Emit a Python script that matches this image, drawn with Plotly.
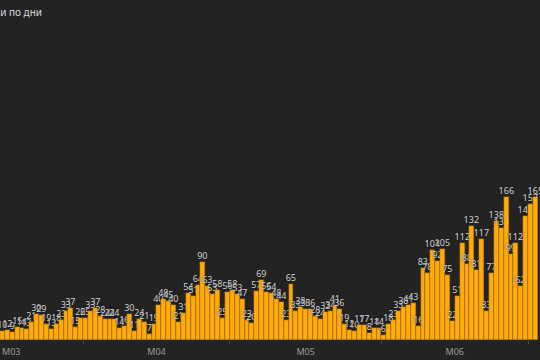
import pandas as pd
import plotly.graph_objects as go

# Daily new cases
march_start = "2020-03-15"
march_values = [10, 12, 9, 15, 14, 13, 21, 30, 29, 19, 13, 18, 23, 33, 37, 15, 26]

april_start = "2020-04-01"
april_values = [25, 33, 37, 28, 24, 24, 24, 14, 16, 30,
                11, 24, 21, 7, 19, 40, 48, 45, 40, 21,
                31, 54, 51, 64, 90, 63, 53, 58, 25, 56]

may_start = "2020-05-01"
may_values = [58, 53, 47, 23, 20, 57, 69, 56, 54, 48,
              44, 23, 65, 33, 38, 36, 36, 28, 24, 32,
              34, 41, 36, 19, 12, 10, 17, 17, 8, 14, 14]

june_start = "2020-06-01"
june_values = [6, 18, 23, 33, 38, 41, 43, 16, 83, 78,
               104, 92, 105, 75, 22, 51, 112, 88, 132, 81,
               117, 33, 77, 138, 130, 166, 99, 112, 62, 143]

july_start = "2020-07-01"
july_values = [157, 165]

title_text = "Нови случаи по дни"
tick_format = "M%m"
first_month_label = "M03"

segments = [(march_start, march_values), (april_start, april_values),
            (may_start, may_values), (june_start, june_values),
            (july_start, july_values)]

dates = []
values = []
for start, vals in segments:
    dates.extend(pd.date_range(start, periods=len(vals), freq="D"))
    values.extend(vals)

tick_font = dict(size=9, color="#9a9a9a", family="Noto Sans")

fig = go.Figure(
    go.Bar(
        x=dates,
        y=values,
        text=[str(v) for v in values],
        textposition="outside",
        textangle=0,
        constraintext="none",
        cliponaxis=False,
        xperiod=86400000,
        xperiodalignment="middle",
        marker=dict(color="#FFAB0A", line=dict(color="#7a5208", width=0.4)),
        textfont=dict(size=9, color="#d2d2d2", family="Noto Sans",
                      shadow="0px 0px 2px #1c1c1c"),
        hoverinfo="skip",
    )
)

fig.update_layout(
    width=540,
    height=360,
    margin=dict(l=0, r=0, t=0, b=20),
    paper_bgcolor="#232323",
    plot_bgcolor="#232323",
    bargap=0,
    showlegend=False,
    font=dict(family="Noto Sans"),
    xaxis=dict(
        type="date",
        range=["2020-03-15 00:00", "2020-07-03 10:20"],
        dtick="M1",
        tick0="2020-03-01",
        tickformat=tick_format,
        ticklabelmode="period",
        ticks="outside",
        ticklen=3,
        tickcolor="#4a4a4a",
        tickfont=tick_font,
        showgrid=False,
        zeroline=False,
        showline=False,
        automargin=False,
    ),
    yaxis=dict(range=[0, 393.5], visible=False, fixedrange=True,
               automargin=False),
    annotations=[
        dict(
            text=title_text,
            xref="paper", yref="paper",
            x=44 / 540, y=(340 - 12) / 340,
            xanchor="right", yanchor="middle",
            showarrow=False,
            font=dict(size=10, color="#d8d8d8", family="Noto Sans"),
        ),
        # label of the partially visible first month (its period start is off-range)
        dict(
            text=first_month_label,
            xref="paper", yref="paper",
            x=11 / 540, y=0,
            xanchor="center", yanchor="top",
            yshift=-3,
            showarrow=False,
            font=tick_font,
        ),
    ],
)

fig.write_html("out.html")
